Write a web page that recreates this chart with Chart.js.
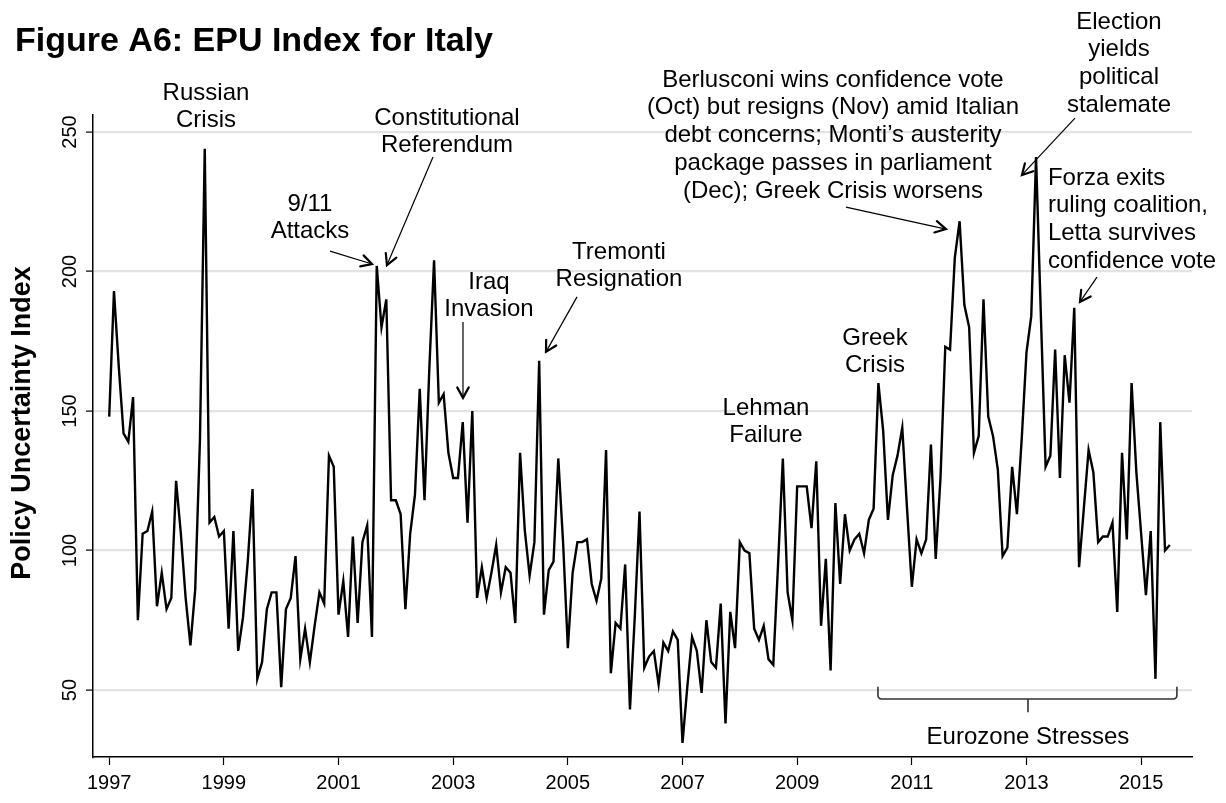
<!DOCTYPE html>
<html>
<head>
<meta charset="utf-8">
<script src="https://cdn.jsdelivr.net/npm/chart.js@4.4.1/dist/chart.umd.min.js"></script>
<style>
html,body{margin:0;padding:0;background:#fff;}
#wrap{width:1226px;height:803px;position:relative;}
</style>
</head>
<body>
<div id="wrap"><canvas id="c" width="1226" height="803"></canvas></div>
<script>
// ---------------- data ----------------
const startYear = 1997;            // first month = Jan 1997, monthly series
const epuItaly = [
  148,193,166,142,139,155,75,106,107,114,80,92,
  79,83,125,106,83,66,86,140,244,110,112,105,
  107,72,107,64,76,96,122,54,60,79,85,85,
  51,79,83,98,61,72,60,73,85,81,134,130,
  77,89,69,105,74,103,109,69,202,180,190,118,
  118,113,79,106,120,158,118,165,204,153,156,135,
  126,126,146,110,150,83,94,83,92,102,85,94,
  92,74,135,107,91,103,168,77,93,96,133,103,
  65,92,103,103,104,88,82,90,136,56,74,72,
  95,43,76,114,58,62,64,52,67,64,71,68,
  31,51,69,64,49,75,60,58,81,38,78,65,
  103,100,99,72,68,73,61,59,95,133,85,75,
  123,123,123,108,132,73,97,57,117,88,113,100,
  104,106,99,111,115,160,143,111,127,134,144,115,
  87,104,99,104,138,97,126,173,172,205,218,188,
  180,135,141,190,148,141,129,98,101,130,113,140,
  171,184,241,185,130,134,172,126,170,153,187,94,
  115,136,128,103,105,105,110,78,135,104,160,128,
  106,84,107,54,146,100,102
];
const yearTicks = [1997,1999,2001,2003,2005,2007,2009,2011,2013,2015];
const valueTicks = [50,100,150,200,250];
const chartTitle = 'Figure A6: EPU Index for Italy';
const yAxisTitle = 'Policy Uncertainty Index';

// event annotations (text anchor and arrow in data units: year, index value)
const events = [
  {lines:['Russian','Crisis'], x:1998.688, y:263.98, align:'center'},
  {lines:['Constitutional','Referendum'], x:2002.892, y:255.02, align:'center',
   arrow:[2002.648,241.0,2001.845,202.3]},
  {lines:['9/11','Attacks'], x:2000.502, y:224.19, align:'center',
   arrow:[2000.851,207.3,2001.584,202.7]},
  {lines:['Iraq','Invasion'], x:2003.624, y:196.24, align:'center',
   arrow:[2003.171,181.9,2003.171,154.7]},
  {lines:['Tremonti','Resignation'], x:2005.892, y:206.99, align:'center',
   arrow:[2005.160,190.9,2004.619,171.2]},
  {lines:['Lehman','Failure'], x:2008.456, y:151.08, align:'center'},
  {lines:['Greek','Crisis'], x:2010.357, y:176.16, align:'center'},
  {lines:['Berlusconi wins confidence vote','(Oct) but resigns (Nov) amid Italian','debt concerns; Monti\u2019s austerity','package passes in parliament','(Dec); Greek Crisis worsens'],
   x:2009.624, y:268.64, align:'center', arrow:[2009.851,223.1,2011.595,215.2]},
  {lines:['Election','yields','political','stalemate'], x:2014.613, y:289.43, align:'center',
   arrow:[2013.846,255.0,2012.921,234.6]},
  {lines:['Forza exits','ruling coalition,','Letta survives','confidence vote'], x:2013.374, y:233.51, align:'left',
   arrow:[2014.229,198.0,2013.933,189.1]}
];
const bracket = {label:'Eurozone Stresses', from:2010.409, to:2015.624, mid:2013.026, level:46.8, endLevel:51.2, tipLevel:42.0, labelLevel:33.2};

// ---------------- chart ----------------
const FONT = '"Liberation Sans", Arial, Helvetica, sans-serif';

function drawArrow(ctx, x1, y1, x2, y2) {
  ctx.save();
  ctx.strokeStyle = '#000';
  ctx.lineWidth = 1.2;
  ctx.beginPath(); ctx.moveTo(x1, y1); ctx.lineTo(x2, y2); ctx.stroke();
  const a = Math.atan2(y2 - y1, x2 - x1);
  const L = 12, s = 0.5;
  ctx.lineWidth = 2.2;
  ctx.lineCap = 'round';
  ctx.beginPath();
  ctx.moveTo(x2 - L * Math.cos(a - s), y2 - L * Math.sin(a - s));
  ctx.lineTo(x2, y2);
  ctx.lineTo(x2 - L * Math.cos(a + s), y2 - L * Math.sin(a + s));
  ctx.stroke();
  ctx.restore();
}

const decorPlugin = {
  id: 'decor',
  afterDraw(chart) {
    const ctx = chart.ctx;
    const xs = chart.scales.x, ys = chart.scales.y;
    const px = v => xs.getPixelForValue(v);
    const py = v => ys.getPixelForValue(v);
    ctx.save();
    ctx.fillStyle = '#000';
    // title
    ctx.font = 'bold 34px ' + FONT;
    ctx.textAlign = 'left';
    ctx.textBaseline = 'alphabetic';
    ctx.fillText(chartTitle, 15, 51);
    // y tick labels (rotated)
    ctx.font = '20px ' + FONT;
    ctx.textAlign = 'center';
    ctx.textBaseline = 'middle';
    valueTicks.forEach(v => {
      ctx.save();
      ctx.translate(70, py(v));
      ctx.rotate(-Math.PI / 2);
      ctx.fillText(String(v), 0, 0);
      ctx.restore();
    });
    // y axis title
    ctx.save();
    ctx.font = 'bold 27px ' + FONT;
    ctx.translate(23, 423);
    ctx.rotate(-Math.PI / 2);
    ctx.fillText(yAxisTitle, 0, 0);
    ctx.restore();
    // events
    ctx.font = '24px ' + FONT;
    ctx.textBaseline = 'middle';
    events.forEach(e => {
      ctx.textAlign = e.align;
      const x0 = px(e.x), y0 = py(e.y);
      e.lines.forEach((t, k) => ctx.fillText(t, x0, y0 + k * 27.8));
      if (e.arrow) drawArrow(ctx, px(e.arrow[0]), py(e.arrow[1]), px(e.arrow[2]), py(e.arrow[3]));
    });
    // bracket
    ctx.strokeStyle = '#333';
    ctx.lineWidth = 1.6;
    const bx1 = px(bracket.from), bx2 = px(bracket.to), bm = px(bracket.mid);
    const by = py(bracket.level), be = py(bracket.endLevel), bt = py(bracket.tipLevel);
    const r = 4;
    ctx.beginPath();
    ctx.moveTo(bx1, be);
    ctx.lineTo(bx1, by - r);
    ctx.quadraticCurveTo(bx1, by, bx1 + r, by);
    ctx.lineTo(bx2 - r, by);
    ctx.quadraticCurveTo(bx2, by, bx2, by - r);
    ctx.lineTo(bx2, be);
    ctx.moveTo(bm, by);
    ctx.lineTo(bm, bt);
    ctx.stroke();
    ctx.textAlign = 'center';
    ctx.fillText(bracket.label, bm, py(bracket.labelLevel));
    ctx.restore();
  }
};

new Chart(document.getElementById('c'), {
  type: 'line',
  data: {
    datasets: [{
      data: epuItaly.map((v, i) => ({x: startYear + i / 12, y: v})),
      borderColor: '#000',
      borderWidth: 2.4,
      pointRadius: 0,
      tension: 0,
      fill: false
    }]
  },
  options: {
    responsive: false,
    animation: false,
    devicePixelRatio: 1,
    layout: {padding: {left: 0, right: 34, top: 115, bottom: 0}},
    plugins: {legend: {display: false}, title: {display: false}, tooltip: {enabled: false}},
    scales: {
      x: {
        type: 'linear',
        min: 1996.7174,
        max: 2015.887,
        afterBuildTicks: s => { s.ticks = yearTicks.map(v => ({value: v})); },
        afterFit: s => { s.height = 46; },
        ticks: {
          callback: v => String(v),
          color: '#000',
          font: {family: FONT, size: 20},
          padding: 6,
          maxRotation: 0,
          autoSkip: false
        },
        grid: {drawOnChartArea: false, drawTicks: true, tickLength: 8, tickColor: '#000', tickWidth: 1.2},
        border: {display: true, color: '#000', width: 1.5}
      },
      y: {
        type: 'linear',
        min: 25.99,
        max: 256.09,
        afterBuildTicks: s => { s.ticks = valueTicks.map(v => ({value: v})); },
        afterFit: s => { s.width = 93; },
        ticks: {display: false},
        grid: {color: '#e3e3e3', lineWidth: 2.2, drawTicks: true, tickLength: 7, tickColor: '#000', tickWidth: 1.2},
        border: {display: true, color: '#000', width: 1.5}
      }
    }
  },
  plugins: [decorPlugin]
});
</script>
</body>
</html>
